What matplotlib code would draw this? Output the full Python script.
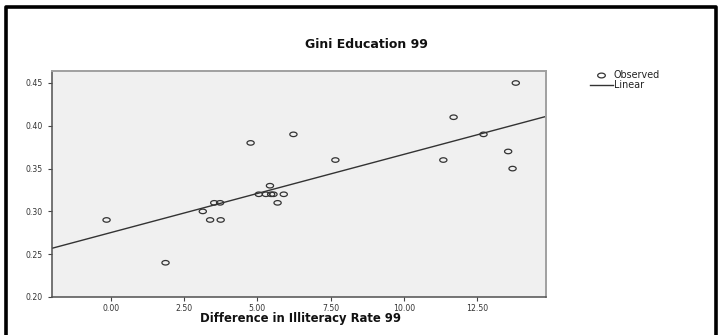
import numpy as np
import matplotlib
matplotlib.use("Agg")
import matplotlib.pyplot as plt
from matplotlib.path import Path
from matplotlib.lines import Line2D

# Data
illiteracy_diff = [-0.14, 1.87, 3.14, 3.39, 3.75, 3.53, 3.73, 4.77, 5.05, 5.29,
                   5.43, 5.47, 5.55, 5.69, 5.90, 6.23, 7.66, 11.34, 11.69, 12.71,
                   13.55, 13.70, 13.81]
gini_education = [0.29, 0.24, 0.30, 0.29, 0.29, 0.31, 0.31, 0.38, 0.32, 0.32,
                  0.33, 0.32, 0.32, 0.31, 0.32, 0.39, 0.36, 0.36, 0.41, 0.39,
                  0.37, 0.35, 0.45]
x_ticks = [0.0, 2.5, 5.0, 7.5, 10.0, 12.5]
y_ticks = [0.20, 0.25, 0.30, 0.35, 0.40, 0.45]
title = "Gini Education 99"
x_label = "Difference in Illiteracy Rate 99"
legend_labels = ["Observed", "Linear"]

plt.rcParams['font.family'] = ['DejaVu Sans']

W, H = 720, 335
fig = plt.figure(figsize=(W / 100, H / 100), dpi=100)
fig.patch.set_facecolor('white')

# outer black frame (open at the bottom)
fig.add_artist(Line2D([6 / W, 6 / W, 716 / W, 716 / W],
                      [0, 1 - 7 / H, 1 - 7 / H, 0],
                      transform=fig.transFigure, color='black', lw=2.6))

ax = fig.add_axes([52 / W, 1 - 297 / H, (546 - 52) / W, (297 - 71) / H])
ax.set_facecolor('#f0f0f0')

# elliptical open marker (reference is horizontally stretched)
t = np.linspace(0, 2 * np.pi, 40)
ell = Path(np.column_stack([1.6 * np.cos(t), np.sin(t)]), closed=True)

x = np.array(illiteracy_diff)
y = np.array(gini_education)
ax.scatter(x, y, marker=ell, s=27, facecolors='none', edgecolors='#333333',
           linewidths=0.9, zorder=3)

slope, intercept = np.polyfit(x, y, 1)
xl = np.array([-2.0, 14.84])
ax.plot(xl, intercept + slope * xl, color='#333333', lw=1.0, zorder=2)

ax.set_xlim(-2.0, 14.84)
ax.set_ylim(0.20, 0.464)
ax.set_xticks(x_ticks)
ax.set_yticks(y_ticks)
ax.set_xticklabels([f"{v:.2f}" for v in x_ticks])
ax.set_yticklabels([f"{v:.2f}" for v in y_ticks])
ax.tick_params(axis='both', direction='out', length=3, width=0.8,
               color='#444444', labelsize=5.6, labelcolor='#333333')
ax.tick_params(axis='y', pad=4)
ax.tick_params(axis='x', pad=2)

for side in ['top', 'right']:
    ax.spines[side].set_color('#a0a0a0')
    ax.spines[side].set_linewidth(1.4)
for side in ['left', 'bottom']:
    ax.spines[side].set_color('#505050')
    ax.spines[side].set_linewidth(1.1)

fig.text(366 / W, 1 - 45 / H, title, ha='center', va='center',
         fontsize=9, fontweight='bold', color='#111111')
fig.text(301 / W, 1 - 318.5 / H, x_label, ha='center', va='center',
         fontsize=8.4, fontweight='bold', color='#111111')

# legend (drawn manually to place precisely)
lg_marker = Line2D([600.5 / W], [1 - 75 / H], transform=fig.transFigure,
                   marker=ell, markersize=5.5, markerfacecolor='none',
                   markeredgecolor='#333333', markeredgewidth=0.9, lw=0)
fig.add_artist(lg_marker)
fig.add_artist(Line2D([590 / W, 613 / W], [1 - 84.5 / H, 1 - 84.5 / H],
                      transform=fig.transFigure, color='#333333', lw=1.0))
fig.text(614 / W, 1 - 75.5 / H, legend_labels[0], ha='left', va='center',
         fontsize=6.9, color='#222222')
fig.text(614 / W, 1 - 84.5 / H, legend_labels[1], ha='left', va='center',
         fontsize=6.9, color='#222222')

fig.savefig("out.png", dpi=100, facecolor='white')
